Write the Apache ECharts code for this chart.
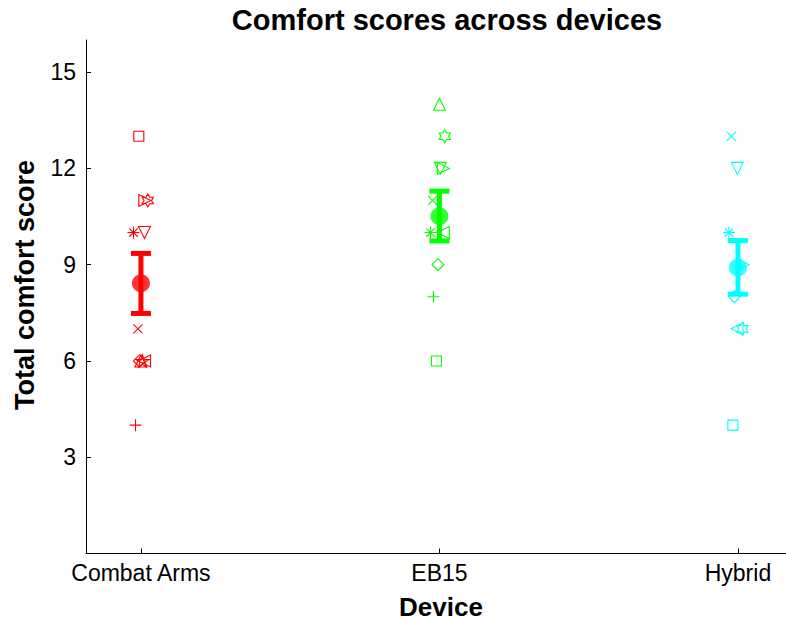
<!DOCTYPE html>
<html><head><meta charset="utf-8">
<script src="https://cdn.jsdelivr.net/npm/echarts@6/dist/echarts.min.js"></script>
<style>html,body{margin:0;padding:0;background:#fff}#c{width:786px;height:621px}</style>
</head><body><div id="c"></div>
<script>
// ---- data ----
const devices = ['Combat Arms', 'EB15', 'Hybrid'];
const deviceColors = ['#ff0000', '#00ff00', '#00ffff'];
const markerNames = ['plus', 'star', 'cross', 'square', 'diamond', 'triUp', 'triDown', 'triRight', 'triLeft', 'pentagram', 'hexagram'];
const scoresCombatArms = [4, 10, 7, 13, 6, 6, 10, 11, 6, 6, 11];
const jitterCombatArms = [-0.018, -0.025, -0.010, -0.007, -0.005, 0.000, 0.012, 0.013, 0.012, 0.005, 0.023];
const scoresEB15 = [8, 10, 11, 6, 9, 14, 12, 12, 10, null, 13];
const jitterEB15 = [-0.020, -0.030, -0.023, -0.010, -0.005, 0.000, 0.003, 0.013, 0.013, 0, 0.018];
const scoresHybrid = [null, 10, 13, 4, 8, null, 12, 9, 7, null, 7];
const jitterHybrid = [0, -0.030, -0.022, -0.017, -0.012, 0, -0.002, 0.017, -0.003, 0, 0.015];
const meanScores = [8.42, 10.51, 8.91];
const errLow = [7.48, 9.74, 8.08];
const errHigh = [9.35, 11.29, 9.75];
const yTickValues = [3, 6, 9, 12, 15];
const xTickValues = [1, 2, 3];

// ---- marker shapes ----
const symbolPaths = {
  plus: 'path://M5 0L5 10M0 5L10 5',
  cross: 'path://M0 0L10 10M10 0L0 10',
  star: 'path://M5 0L5 10M0 5L10 5M1.5 1.5L8.5 8.5M8.5 1.5L1.5 8.5',
  square: 'path://M0 0L10 0L10 10L0 10Z',
  diamond: 'path://M5 0L10 5L5 10L0 5Z',
  triUp: 'path://M5 0L10 10L0 10Z',
  triDown: 'path://M0 0L10 0L5 10Z',
  triRight: 'path://M0 0L10 5L0 10Z',
  triLeft: 'path://M10 0L0 5L10 10Z',
  pentagram: 'path://M5 0L6.123 3.455L9.755 3.455L6.816 5.59L7.939 9.045L5 6.91L2.061 9.045L3.184 5.59L0.245 3.455L3.877 3.455Z',
  hexagram: 'path://M5 0L6.443 2.5L9.33 2.5L7.887 5L9.33 7.5L6.443 7.5L5 10L3.557 7.5L0.67 7.5L2.113 5L0.67 2.5L3.557 2.5Z'
};
const symbolSizes = {plus: 12, cross: 9, star: 12, square: 10, diamond: 12, triUp: 12, triDown: 12, triRight: 12, triLeft: 12, pentagram: 13, hexagram: 13};

const allScores = [scoresCombatArms, scoresEB15, scoresHybrid];
const allJitter = [jitterCombatArms, jitterEB15, jitterHybrid];

const FONT = '"Liberation Sans", Arial, Helvetica, sans-serif';
const series = [];
devices.forEach((dev, d) => {
  const data = [];
  markerNames.forEach((m, i) => {
    const s = allScores[d][i];
    if (s === null || s === undefined) return;
    data.push({
      value: [xTickValues[d] + allJitter[d][i], s],
      symbol: symbolPaths[m],
      symbolSize: symbolSizes[m]
    });
  });
  series.push({
    type: 'scatter', name: dev, data,
    symbolKeepAspect: true,
    itemStyle: {color: 'transparent', borderColor: deviceColors[d], borderWidth: 1.1, opacity: 1},
    emphasis: {disabled: true},
    z: 2
  });
});

series.push({
  type: 'custom',
  data: devices.map((dev, d) => [xTickValues[d], errLow[d], errHigh[d]]),
  renderItem(params, api) {
    const x = api.value(0);
    const pLo = api.coord([x, api.value(1)]);
    const pHi = api.coord([x, api.value(2)]);
    const hw = 10;
    const style = {stroke: deviceColors[params.dataIndex], lineWidth: 5, fill: 'none'};
    return {type: 'group', children: [
      {type: 'line', shape: {x1: pLo[0], y1: pLo[1], x2: pHi[0], y2: pHi[1]}, style},
      {type: 'line', shape: {x1: pLo[0] - hw, y1: pLo[1], x2: pLo[0] + hw, y2: pLo[1]}, style},
      {type: 'line', shape: {x1: pHi[0] - hw, y1: pHi[1], x2: pHi[0] + hw, y2: pHi[1]}, style}
    ]};
  },
  z: 3
});

series.push({
  type: 'scatter',
  data: devices.map((dev, d) => ({value: [xTickValues[d], meanScores[d]], itemStyle: {color: deviceColors[d]}})),
  symbol: 'circle', symbolSize: 18,
  emphasis: {disabled: true},
  z: 4
});

const chart = echarts.init(document.getElementById('c'), null, {renderer: 'svg'});
chart.setOption({
  animation: false,
  backgroundColor: '#ffffff',
  grid: {left: 86, top: 40, right: 0, bottom: 67.5, containLabel: false},
  xAxis: {
    type: 'value', min: 0.816, max: 3.161,
    axisLine: {show: true, lineStyle: {color: '#000', width: 1}},
    axisTick: {show: true, inside: true, length: 5, customValues: xTickValues, lineStyle: {color: '#000'}},
    axisLabel: {show: true, customValues: xTickValues, margin: 8, color: '#000', fontSize: 23, fontFamily: FONT,
      formatter: v => devices[Math.round(v) - 1] || ''},
    splitLine: {show: false}
  },
  yAxis: {
    type: 'value', min: 0, max: 16,
    axisLine: {show: true, lineStyle: {color: '#000', width: 1}},
    axisTick: {show: true, inside: true, length: 5, customValues: yTickValues, lineStyle: {color: '#000'}},
    axisLabel: {show: true, customValues: yTickValues, margin: 10, color: '#000', fontSize: 23, fontFamily: FONT},
    splitLine: {show: false}
  },
  graphic: [
    {type: 'text', x: 447, y: 20, style: {text: 'Comfort scores across devices', font: 'bold 29px ' + FONT, fill: '#000', align: 'center', verticalAlign: 'middle'}},
    {type: 'text', x: 441, y: 607, style: {text: 'Device', font: 'bold 26px ' + FONT, fill: '#000', align: 'center', verticalAlign: 'middle'}},
    {type: 'text', x: 25, y: 285, rotation: Math.PI / 2, style: {text: 'Total comfort score', font: 'bold 27px ' + FONT, fill: '#000', align: 'center', verticalAlign: 'middle'}}
  ],
  series
});
</script>
</body></html>
